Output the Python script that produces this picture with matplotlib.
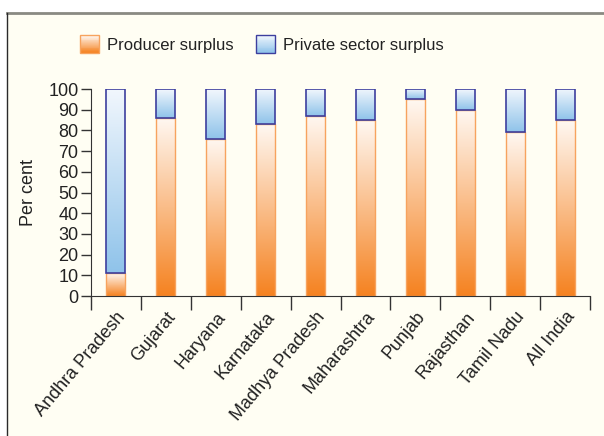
import numpy as np
import matplotlib
matplotlib.use("Agg")
import matplotlib.pyplot as plt
from matplotlib.colors import LinearSegmentedColormap
from matplotlib.patches import Rectangle
from matplotlib.lines import Line2D
from matplotlib.legend_handler import HandlerBase

states = ["Andhra Pradesh", "Gujarat", "Haryana", "Karnataka", "Madhya Pradesh",
          "Maharashtra", "Punjab", "Rajasthan", "Tamil Nadu", "All India"]
producer = [11, 86, 76, 83, 87, 85, 95, 90, 79, 85]
private = [100 - p for p in producer]

plt.rcParams["font.family"] = ["Liberation Sans"]

orange_cm = LinearSegmentedColormap.from_list("o", ["#f58220", "#fff8f2"])
blue_cm = LinearSegmentedColormap.from_list("b", ["#8fc3ea", "#f2f7fd"])
orange_edge = "#f7a35e"
blue_edge = "#3d3f9e"
bg = "#fffef3"

W, H = 604, 436
fig = plt.figure(figsize=(W / 100, H / 100), dpi=100, facecolor="white")
# cream panel with frame lines
fig.add_artist(Rectangle((7 / W, 0), 1, 1 - 13 / H, transform=fig.transFigure,
                         facecolor=bg, edgecolor="none", zorder=-10))
fig.add_artist(Line2D([7 / W, 1], [1 - 13.5 / H, 1 - 13.5 / H], transform=fig.transFigure,
                      color="#8a8a82", lw=2))
fig.add_artist(Line2D([7.5 / W, 7.5 / W], [0, 1 - 13 / H], transform=fig.transFigure,
                      color="#2a2a2a", lw=1))

ax = fig.add_axes([91 / W, 1 - 296 / H, (590 - 91) / W, (296 - 89) / H])
ax.set_facecolor("none")

x = np.arange(len(states))
grad = np.linspace(0, 1, 256).reshape(-1, 1)


def fill_gradient(bars, cmap):
    for b in bars:
        x0, y0 = b.get_x(), b.get_y()
        w, h = b.get_width(), b.get_height()
        im = ax.imshow(grad, cmap=cmap, origin="lower", aspect="auto",
                       extent=[x0, x0 + w, y0, y0 + h], zorder=1)
        im.set_clip_path(b)


bw = 0.38
b1 = ax.bar(x, producer, bw, facecolor="none", edgecolor=orange_edge, lw=1, zorder=2)
b2 = ax.bar(x, private, bw, bottom=producer, facecolor="none", edgecolor=blue_edge, lw=1.2, zorder=3)
fill_gradient(b1, orange_cm)
fill_gradient(b2, blue_cm)

ax.set_xlim(-0.5, len(states) - 0.5)
ax.set_ylim(0, 100)
ax.set_yticks(range(0, 101, 10))
ax.tick_params(axis="y", labelsize=13, length=7, width=1, color="#333333", pad=2,
               labelcolor="#222222")
ax.set_xticks(x)
ax.set_xticklabels(states, rotation=50, ha="right", rotation_mode="anchor", fontsize=13,
                   color="#222222")
ax.tick_params(axis="x", length=0, pad=9)
ax.set_xticks(np.arange(-0.5, len(states)), minor=True)
ax.tick_params(axis="x", which="minor", length=10, width=1, color="#333333")
for s in ["top", "right"]:
    ax.spines[s].set_visible(False)
for s in ["left", "bottom"]:
    ax.spines[s].set_color("#333333")
ax.set_ylabel("Per cent", fontsize=13, labelpad=8, color="#222222")


class GradHandler(HandlerBase):
    def __init__(self, cmap, edge):
        super().__init__()
        self.cmap, self.edge = cmap, edge

    def create_artists(self, legend, orig, xd, yd, width, height, fontsize, trans):
        arts = []
        n = 20
        for i in range(n):
            arts.append(Rectangle((-xd, -yd + height * i / n), width, height / n + 0.3,
                                  facecolor=self.cmap(i / (n - 1)), edgecolor="none",
                                  transform=trans))
        arts.append(Rectangle((-xd, -yd), width, height, facecolor="none",
                              edgecolor=self.edge, lw=1, transform=trans))
        return arts


h1 = Rectangle((0, 0), 1, 1)
h2 = Rectangle((0, 0), 1, 1)
fig.legend([h1, h2], ["Producer surplus", "Private sector surplus"],
           handler_map={h1: GradHandler(orange_cm, orange_edge),
                        h2: GradHandler(blue_cm, blue_edge)},
           loc="center", bbox_to_anchor=(262 / W, 1 - 44 / H), ncol=2, frameon=False,
           fontsize=12, handlelength=1.15, handleheight=1.25, handletextpad=0.5,
           columnspacing=1.3, labelcolor="#222222")

fig.savefig("out.png", dpi=100, facecolor="white")
